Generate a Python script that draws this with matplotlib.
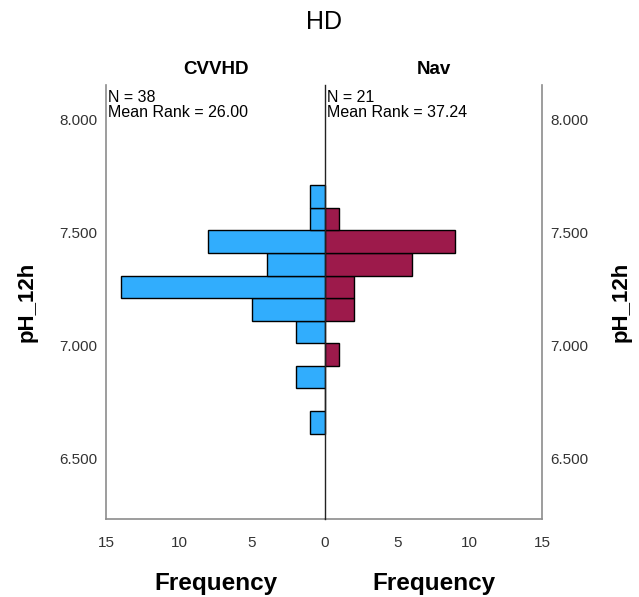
import matplotlib
matplotlib.use("Agg")
import matplotlib.pyplot as plt

plt.rcParams['font.family'] = ['Liberation Sans', 'DejaVu Sans']

# bin lower edges of pH_12h (width 0.1)
bin_edges = [6.61, 6.71, 6.81, 6.91, 7.01, 7.11, 7.21, 7.31, 7.41, 7.51, 7.61]
bin_width = 0.1
cvvhd_counts = [1, 0, 2, 0, 2, 5, 14, 4, 8, 1, 1]
nav_counts = [0, 0, 0, 1, 0, 2, 2, 6, 9, 1, 0]
groups = ['CVVHD', 'Nav']
n_labels = ['N = 38\nMean Rank = 26.00', 'N = 21\nMean Rank = 37.24']
y_ticks = [6.5, 7.0, 7.5, 8.0]
x_ticks = [0, 5, 10, 15]

blue = '#31adfd'
maroon = '#9d1a4b'
gray = '#8c8c8c'

fig = plt.figure(figsize=(6.39, 5.97), dpi=100)
W, H = 639, 597
top, bot = 85, 519
axL = fig.add_axes([106 / W, 1 - bot / H, (325 - 106) / W, (bot - top) / H])
axR = fig.add_axes([325 / W, 1 - bot / H, (542 - 325) / W, (bot - top) / H])

for ax, counts, col in [(axL, cvvhd_counts, blue), (axR, nav_counts, maroon)]:
    ax.barh(bin_edges, counts, height=bin_width, align='edge', color=col,
            edgecolor='black', linewidth=1)
    ax.set_ylim(6.231, 8.155)
    ax.set_xlim(0, 15)
    ax.set_xticks(x_ticks)
    ax.set_yticks(y_ticks)
    ax.tick_params(length=0, labelsize=11, colors='#333333')
    ax.tick_params(axis='x', pad=12)
    ax.tick_params(axis='y', pad=6)
    ax.spines['top'].set_visible(False)
    for s in ax.spines.values():
        s.set_color(gray)
        s.set_linewidth(1.2)

axL.invert_xaxis()
axL.spines['right'].set_visible(False)
axR.spines['left'].set_color('#222222')
axR.spines['left'].set_linewidth(1)
axR.spines['left'].set_zorder(5)
axL.yaxis.set_major_formatter(plt.FormatStrFormatter('%.3f'))
axR.yaxis.set_major_formatter(plt.FormatStrFormatter('%.3f'))
axR.yaxis.tick_right()
axR.tick_params(axis='y', labelright=True, labelleft=False, pad=6)
axR.set_xticklabels(['', '5', '10', '15'])

for ax, g, t in [(axL, groups[0], n_labels[0]), (axR, groups[1], n_labels[1])]:
    ax.set_title(g, fontsize=13.5, fontweight='bold', pad=8)
    ax.set_xlabel('Frequency', fontsize=17.5, fontweight='bold', labelpad=16)
    ax.text(0.01, 0.988, t, transform=ax.transAxes, va='top', ha='left',
            fontsize=11.5, linespacing=0.95)

axL.set_ylabel('pH_12h', fontsize=16, fontweight='bold', labelpad=16)
axR.yaxis.set_label_position('right')
axR.set_ylabel('pH_12h', fontsize=16, fontweight='bold', labelpad=16, rotation=90)

fig.text(324 / W, 1 - 22 / H, 'HD', ha='center', va='center', fontsize=18)

fig.savefig('out.png', dpi=100)
